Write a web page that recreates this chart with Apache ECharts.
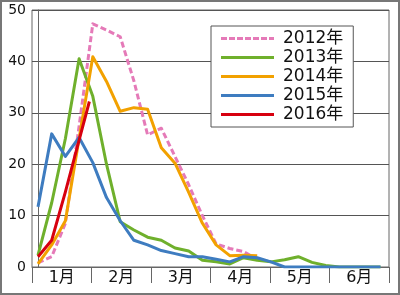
<!DOCTYPE html>
<html>
<head>
<meta charset="utf-8">
<script src="https://cdn.jsdelivr.net/npm/echarts@6/dist/echarts.min.js"></script>
<style>
html,body{margin:0;padding:0;background:#fff;}
#c{width:400px;height:295px;}
</style>
</head>
<body>
<div id="c"></div>
<script>
// Month labels (x categories)
var months = ['1月', '2月', '3月', '4月', '5月', '6月'];
// Weekly sample positions (week index from start of January)
var weeks = [0, 1, 2, 3, 4, 5, 6, 7, 8, 9, 10, 11, 12, 13, 14, 15, 16, 17, 18, 19, 20, 21, 22, 23, 24, 25];
var weeks2016 = [0, 1, 2, 3, 3.75];
// Series names
var names = ['2012年', '2013年', '2014年', '2015年', '2016年'];
// Values
var s2012 = [0.8, 2.0, 8.5, 27.4, 47.3, 46.1, 44.8, 36.2, 25.7, 27.0, 21.5, 16.0, 10.0, 4.5, 3.6, 3.0, 1.5];
var s2013 = [2.3, 12.5, 25.0, 40.5, 33.2, 20.0, 8.8, 7.2, 5.8, 5.2, 3.7, 3.1, 1.3, 1.0, 0.6, 1.8, 1.3, 1.0, 1.4, 2.0, 0.9, 0.3, 0, 0, 0, 0];
var s2014 = [0.6, 4.3, 9.0, 25.0, 40.9, 36.1, 30.3, 31.0, 30.7, 23.2, 20.2, 14.5, 8.5, 4.3, 2.2, 2.3, 2.2];
var s2015 = [11.7, 25.9, 21.5, 25.2, 20.3, 13.5, 9.0, 5.2, 4.3, 3.2, 2.6, 2.0, 2.0, 1.5, 1.0, 2.0, 1.8, 1.0, 0, 0, 0, 0, 0, 0, 0, 0];
var s2016 = [2.0, 5.2, 14.6, 24.7, 32.2];
// Y axis
var yMin = 0, yMax = 50, yStep = 10;

var colors = ['#e57ab8', '#6fb02c', '#f2a100', '#3e7cc0', '#d7000f'];

function pairs(xs, ys) {
  var out = [];
  for (var i = 0; i < ys.length; i++) out.push([xs[i], ys[i]]);
  return out;
}

var seriesData = [
  pairs(weeks, s2012),
  pairs(weeks, s2013),
  pairs(weeks, s2014),
  pairs(weeks, s2015),
  pairs(weeks2016, s2016)
];

var FONT = 'DejaVu Sans, Noto Sans CJK JP, sans-serif';

// dashed legend icon (7 dashes) for the dashed series
var dashIcon = 'path://M0 0h6v3H0z M8 0h6v3H8z M16 0h6v3H16z M24 0h6v3H24z M32 0h6v3H32z M40 0h6v3H40z M48 0h5v3H48z';

var series = names.map(function (n, i) {
  return {
    name: n,
    type: 'line',
    xAxisIndex: 1,
    yAxisIndex: 0,
    data: seriesData[i],
    symbol: 'none',
    showSymbol: false,
    animation: false,
    lineStyle: {
      color: colors[i],
      width: 3,
      type: i === 0 ? [6, 3] : 'solid',
      join: 'round'
    },
    itemStyle: { color: colors[i] }
  };
});

var legendData = names.map(function (n, i) {
  return { name: n, icon: i === 0 ? dashIcon : 'rect', itemStyle: { color: colors[i] } };
});

var chart = echarts.init(document.getElementById('c'), null, { renderer: 'canvas' });
chart.setOption({
  animation: false,
  backgroundColor: '#fff',
  grid: {
    left: 32, right: 11, top: 10, bottom: 28,
    show: true, borderColor: '#666', borderWidth: 1, backgroundColor: 'transparent'
  },
  xAxis: [
    {
      type: 'category',
      data: months,
      boundaryGap: true,
      axisLine: { lineStyle: { color: '#666', width: 1 } },
      axisTick: { show: true, interval: 0, length: 16, lineStyle: { color: '#666', width: 1 } },
      axisLabel: { color: '#111', fontSize: 16, fontFamily: FONT, margin: 3, interval: 0 },
      splitLine: { show: false }
    },
    {
      type: 'value',
      min: -0.438,
      max: 25.62,
      show: false
    }
  ],
  yAxis: {
    type: 'value',
    min: yMin, max: yMax, interval: yStep,
    axisLine: { show: true, lineStyle: { color: '#666', width: 1 } },
    axisTick: { show: false },
    axisLabel: { color: '#111', fontSize: 14, fontFamily: FONT, margin: 6 },
    splitLine: { show: true, lineStyle: { color: '#555', width: 1 } }
  },
  legend: {
    orient: 'vertical',
    left: 211, top: 26,
    padding: [4, 10, 4, 10],
    backgroundColor: '#fff',
    borderColor: '#555',
    borderWidth: 1,
    borderRadius: 0,
    itemWidth: 53,
    itemHeight: 3,
    itemGap: 2,
    selectedMode: false,
    textStyle: { color: '#111', fontSize: 17, fontFamily: FONT, lineHeight: 17, padding: [0, 0, 0, 4] },
    data: legendData
  },
  graphic: [{
    type: 'rect',
    shape: { x: 1, y: 1, width: 398, height: 293 },
    style: { fill: 'none', stroke: '#777', lineWidth: 2 },
    silent: true,
    z: 100
  }],
  series: series
});
</script>
</body>
</html>
